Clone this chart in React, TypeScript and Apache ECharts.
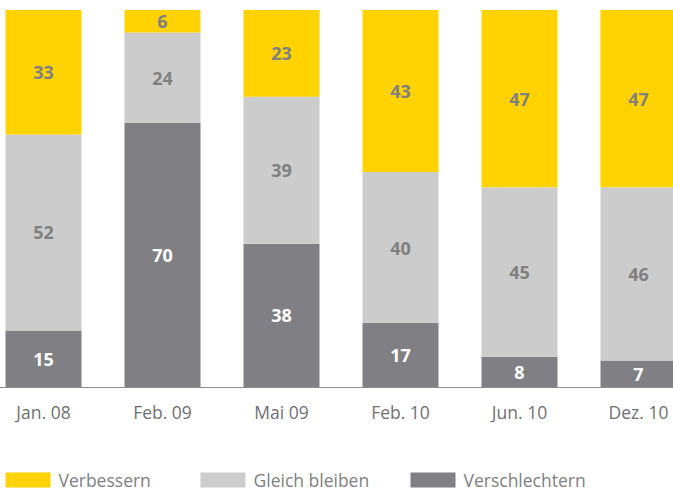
import React, { useEffect, useRef } from "react";
import * as echarts from "echarts";

const categories = ["Jan. 08", "Feb. 09", "Mai 09", "Feb. 10", "Jun. 10", "Dez. 10"];
const verbessern = [33, 6, 23, 43, 47, 47];
const gleichBleiben = [52, 24, 39, 40, 45, 46];
const verschlechtern = [15, 70, 38, 17, 8, 7];

const YELLOW = "#FFD200";
const LIGHT = "#CCCCCC";
const DARK = "#807F83";
const TEXT = "#808080";
const FONT = "'Open Sans', 'Noto Sans', sans-serif";
const SHIFT = 16.5;

export default function App() {
  const ref = useRef<HTMLDivElement>(null);
  useEffect(() => {
    if (!ref.current) return;
    const chart = echarts.init(ref.current, undefined, { renderer: "svg" });
    const label = (color: string) => ({
      show: true,
      position: "inside" as const,
      color,
      fontWeight: "bold" as const,
      fontSize: 18,
      fontFamily: FONT,
    });
    const legendBase = {
      top: 471,
      padding: 0,
      itemWidth: 45,
      itemHeight: 15,
      icon: "rect",
      textStyle: {
        color: TEXT,
        fontSize: 17.5,
        fontFamily: FONT,
        padding: [0, 0, 0, 3],
      },
      selectedMode: false,
    };
    chart.setOption({
      animation: false,
      legend: [
        { ...legendBase, left: 5 + SHIFT, data: ["Verbessern"] },
        { ...legendBase, left: 200 + SHIFT, data: ["Gleich bleiben"] },
        { ...legendBase, left: 410 + SHIFT, data: ["Verschlechtern"] },
      ],
      grid: { left: 0, right: 0, top: 10, bottom: 106, containLabel: false },
      xAxis: {
        type: "category",
        data: categories,
        axisTick: { show: false },
        axisLine: { lineStyle: { color: "#8C8C8C", width: 1 } },
        axisLabel: { color: "#707070", fontSize: 17.5, fontFamily: FONT, margin: 16 },
      },
      yAxis: { type: "value", min: 0, max: 100, show: false },
      series: [
        {
          name: "Verschlechtern",
          type: "bar",
          stack: "a",
          barWidth: 76,
          data: verschlechtern,
          itemStyle: { color: DARK },
          label: label("#FFFFFF"),
        },
        {
          name: "Gleich bleiben",
          type: "bar",
          stack: "a",
          barWidth: 76,
          data: gleichBleiben,
          itemStyle: { color: LIGHT },
          label: label(TEXT),
        },
        {
          name: "Verbessern",
          type: "bar",
          stack: "a",
          barWidth: 76,
          data: verbessern,
          itemStyle: { color: YELLOW },
          label: label(TEXT),
        },
      ],
    });
    return () => chart.dispose();
  }, []);
  return (
    <div style={{ position: "fixed", left: 0, top: 0, width: 673, height: 493, overflow: "hidden", background: "#fff" }}>
      <div
        ref={ref}
        style={{ position: "absolute", left: -SHIFT, top: 0, width: 714, height: 493 }}
      />
    </div>
  );
}
